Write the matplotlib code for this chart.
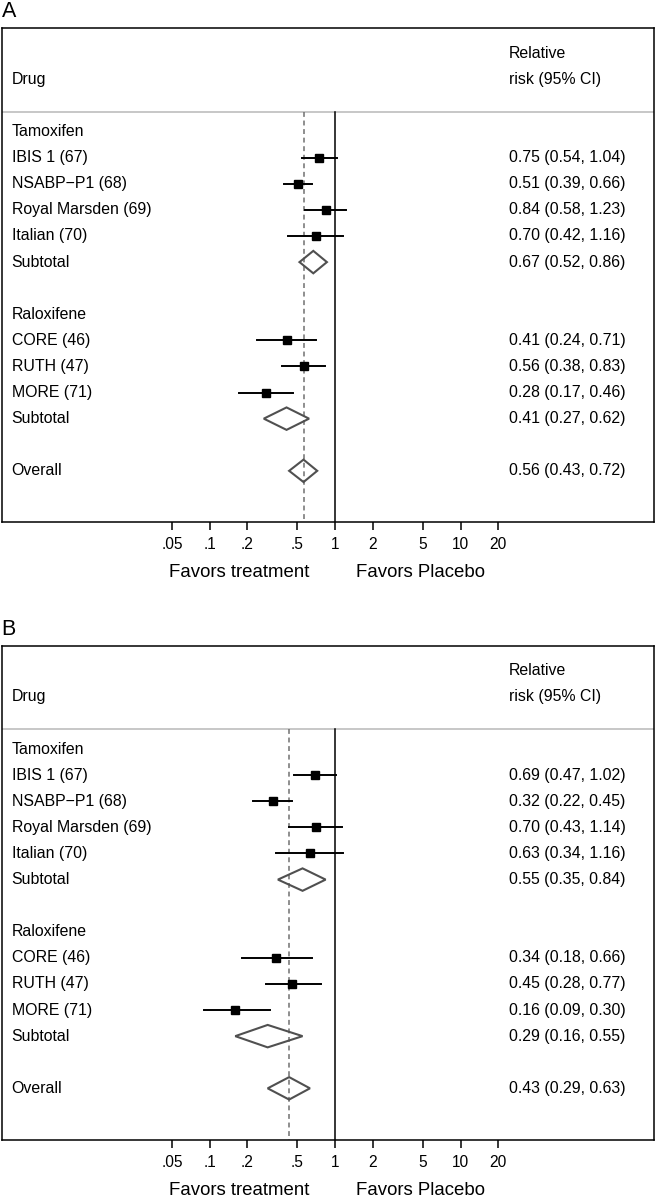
import numpy as np
import matplotlib.pyplot as plt
from matplotlib.ticker import NullLocator
from matplotlib.patches import Polygon
from matplotlib.transforms import blended_transform_factory

plt.rcParams['font.family'] = ['Liberation Sans', 'DejaVu Sans']

# Forest plots: relative risk of breast cancer, panel A and panel B

STUDIES = ["IBIS 1 (67)", "NSABP\u2212P1 (68)", "Royal Marsden (69)", "Italian (70)",
           "CORE (46)", "RUTH (47)", "MORE (71)"]
GROUPS = ["Tamoxifen", "Raloxifene"]
TICKS = [0.05, 0.1, 0.2, 0.5, 1, 2, 5, 10, 20]
TICK_LABELS = [".05", ".1", ".2", ".5", "1", "2", "5", "10", "20"]

# panel A
rr_a = [0.75, 0.51, 0.84, 0.70, 0.41, 0.56, 0.28]
lo_a = [0.54, 0.39, 0.58, 0.42, 0.24, 0.38, 0.17]
hi_a = [1.04, 0.66, 1.23, 1.16, 0.71, 0.83, 0.46]
sub_a = [(0.67, 0.52, 0.86), (0.41, 0.27, 0.62)]
overall_a = (0.56, 0.43, 0.72)

# panel B
rr_b = [0.69, 0.32, 0.70, 0.63, 0.34, 0.45, 0.16]
lo_b = [0.47, 0.22, 0.43, 0.34, 0.18, 0.28, 0.09]
hi_b = [1.02, 0.45, 1.14, 1.16, 0.66, 0.77, 0.30]
sub_b = [(0.55, 0.35, 0.84), (0.29, 0.16, 0.55)]
overall_b = (0.43, 0.29, 0.63)

W, H = 656, 1199
fig = plt.figure(figsize=(W / 100, H / 100), dpi=100)

FS = 11.4
study_rows = [1, 2, 3, 4, 8, 9, 10]
group_rows = [0, 7]
sub_rows = [5, 11]
overall_row = 13
GRAY_LINE = -0.76


def fmt(v):
    return "%.2f (%.2f, %.2f)" % v


def diamond(ax, est, lo, hi, row):
    pts = [(lo, row), (est, row - 0.43), (hi, row), (est, row + 0.43)]
    ax.add_patch(Polygon(pts, closed=True, fill=False, edgecolor='#505050', lw=1.5, zorder=3))


def panel(top, bottom, letter, rr, lo, hi, subs, overall):
    ax = fig.add_axes([1.7 / W, 1 - bottom / H, (654.3 - 1.7) / W, (bottom - top) / H])
    ax.set_xscale('log')
    ax.set_xlim(0.0022, 350)
    ax.set_ylim(14.98, -3.96)
    for s in ax.spines.values():
        s.set_linewidth(1.1)
    ax.set_yticks([])
    ax.set_xticks(TICKS)
    ax.set_xticklabels(TICK_LABELS)
    ax.xaxis.set_minor_locator(NullLocator())
    ax.tick_params(axis='x', direction='out', length=6, width=1.1, pad=4.5, labelsize=FS - 0.2)

    tr = blended_transform_factory(ax.transAxes, ax.transData)
    ax.plot([0, 1], [GRAY_LINE, GRAY_LINE], transform=tr, color='#bdbdbd', lw=1.2)
    ax.plot([1, 1], [GRAY_LINE, 14.98], color='black', lw=1.1)
    ax.plot([overall[0], overall[0]], [GRAY_LINE, 14.98], color='#707070', lw=1.1,
            dashes=(3.2, 2.4))

    # header
    ax.text(0.0153, -2, "Drug", transform=tr, va='center', ha='left', fontsize=FS)
    ax.text(0.7774, -3, "Relative", transform=tr, va='center', ha='left', fontsize=FS)
    ax.text(0.7774, -2, "risk (95% CI)", transform=tr, va='center', ha='left', fontsize=FS)

    for g, r in zip(GROUPS, group_rows):
        ax.text(0.0153, r, g, transform=tr, va='center', ha='left', fontsize=FS)

    for name, r, e, l, h in zip(STUDIES, study_rows, rr, lo, hi):
        ax.plot([l, h], [r, r], color='black', lw=1.4, zorder=2)
        ax.plot(e, r, marker='s', color='black', ms=6.4, zorder=3)
        ax.text(0.0153, r, name, transform=tr, va='center', ha='left', fontsize=FS)
        ax.text(0.7774, r, fmt((e, l, h)), transform=tr, va='center', ha='left', fontsize=FS)

    for s, r in zip(subs, sub_rows):
        diamond(ax, s[0], s[1], s[2], r)
        ax.text(0.0153, r, "Subtotal", transform=tr, va='center', ha='left', fontsize=FS)
        ax.text(0.7774, r, fmt(s), transform=tr, va='center', ha='left', fontsize=FS)

    diamond(ax, overall[0], overall[1], overall[2], overall_row)
    ax.text(0.0153, overall_row, "Overall", transform=tr, va='center', ha='left', fontsize=FS)
    ax.text(0.7774, overall_row, fmt(overall), transform=tr, va='center', ha='left', fontsize=FS)

    # direction labels under the axis
    yl = -(50.5) / (bottom - top)
    ax.text(0.4709, yl, "Favors treatment", transform=ax.transAxes, ha='right', va='center',
            fontsize=13.4)
    ax.text(0.5430, yl, "Favors Placebo", transform=ax.transAxes, ha='left', va='center',
            fontsize=13.4)

    fig.text(1.5 / W, 1 - (top - 16.5) / H, letter, ha='left', va='center', fontsize=15.5)
    return ax


panel(28.3, 522.5, "A", rr_a, lo_a, hi_a, sub_a, overall_a)
panel(645.8, 1140.0, "B", rr_b, lo_b, hi_b, sub_b, overall_b)

fig.savefig("out.png", dpi=100)
